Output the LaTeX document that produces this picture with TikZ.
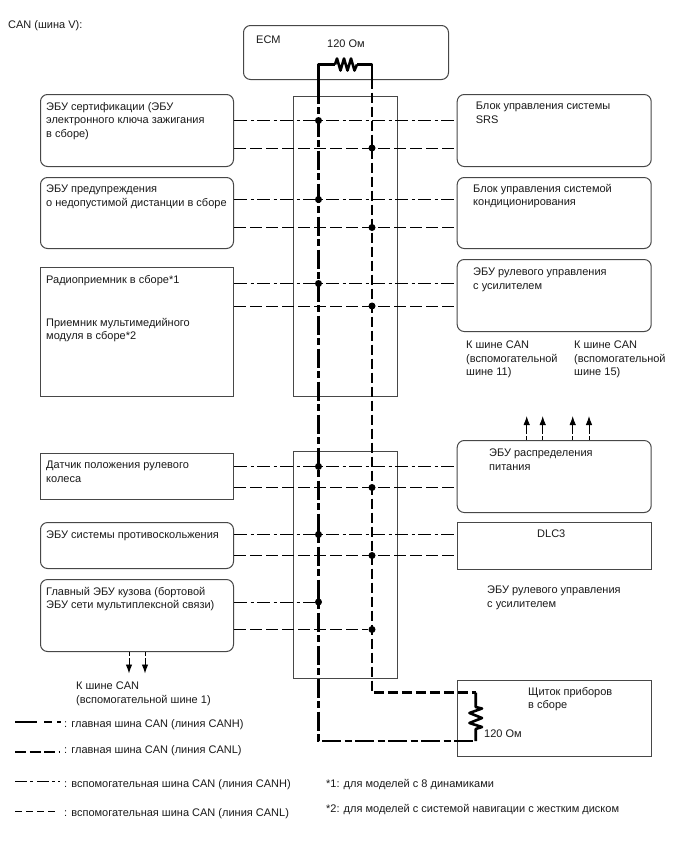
\documentclass[tikz,border=0pt]{standalone}
\usepackage{fontspec}
\setmainfont{Liberation Sans}
\usetikzlibrary{arrows.meta,calc}
\tikzset{
  every node/.style={font=\fontsize{11}{13.5}\selectfont},
  roundbox/.style={draw=black!72,line width=1pt,rounded corners=7pt,inner sep=0,anchor=north west},
  sqbox/.style={draw=black!72,line width=1pt,inner sep=0,anchor=north west},
  lbl/.style={anchor=north west,align=left,inner sep=0,text=black!90},
  dot/.style={circle,fill=black,inner sep=0,minimum size=7pt},
  subH/.style={line width=0.9pt,dash pattern=on 13pt off 3.5pt on 3pt off 3.5pt},
  subL/.style={line width=0.9pt,dash pattern=on 11.5pt off 4.5pt},
  mainH/.style={line width=2.6pt,dash pattern=on 19pt off 3.5pt on 7pt off 3.5pt},
  mainL/.style={line width=2.6pt,dash pattern=on 10pt off 4pt},
  wire/.style={line width=2.6pt,line join=round},
  stub/.style={line width=0.9pt,dash pattern=on 4pt off 2pt on 30pt,-{Latex[length=9pt,width=6.5pt]}}
}
\begin{document}
\begin{tikzpicture}[x=1pt,y=-1pt]
\useasboundingbox (0,0) rectangle (688,852);

% housings of the bus junction blocks
\node[sqbox,minimum width=104pt,minimum height=300pt] (jcA) at (293.3,96) {};
\node[sqbox,minimum width=104pt,minimum height=227pt] (jcB) at (293.3,451) {};

% control units
\node[roundbox,minimum width=205pt,minimum height=54pt] (ecm) at (243,25) {};
\node[roundbox,minimum width=193pt,minimum height=72pt] (l1) at (40,94) {};
\node[roundbox,minimum width=193pt,minimum height=71pt] (l2) at (40,177) {};
\node[sqbox,minimum width=193pt,minimum height=129pt] (l3) at (40,267) {};
\node[sqbox,minimum width=193pt,minimum height=46.5pt] (l4) at (40,452.7) {};
\node[roundbox,minimum width=193pt,minimum height=46pt] (l5) at (40,522) {};
\node[roundbox,minimum width=193pt,minimum height=72pt] (l6) at (40,579) {};
\node[roundbox,minimum width=194pt,minimum height=72pt] (r1) at (456.7,94) {};
\node[roundbox,minimum width=194pt,minimum height=71pt] (r2) at (456.7,177) {};
\node[roundbox,minimum width=194pt,minimum height=72pt] (r3) at (456.7,259) {};
\node[roundbox,minimum width=194pt,minimum height=72pt] (r4) at (456.7,440) {};
\node[sqbox,minimum width=194pt,minimum height=46.5pt] (r5) at (456.7,522) {};
\node[sqbox,minimum width=194pt,minimum height=75.7pt] (r6) at (456.7,680) {};

% bus routing points
\coordinate (hTop) at (318.5,64.5);
\coordinate (lTop) at (372,64.5);
\coordinate (resAw) at (335,64.5);
\coordinate (resAe) at (357,64.5);
\coordinate (hBot) at (318.5,741);
\coordinate (lBot) at (372,692.7);
\coordinate (tieH) at (475.7,741);
\coordinate (tieL) at (475.7,692.7);
\coordinate (resBn) at (475.7,707);
\coordinate (resBs) at (475.7,729);

% junction dots
\foreach \n/\y in {h1/120.5,h2/199.5,h3/283.5,h4/466.5,h5/534.5,h6/602}
  \node[dot] (\n) at (318.5,\y) {};
\foreach \n/\y in {d1/148,d2/227.5,d3/306,d4/487.5,d5/555.5,d6/629.5}
  \node[dot] (\n) at (372,\y) {};

% branch lines
\foreach \a/\b/\c in {l1/h1/r1,l2/h2/r2,l3/h3/r3,l4/h4/r4,l5/h5/r5}
  \draw[subH] (\a.east |- \b) -- (\c.west |- \b);
\foreach \a/\b/\c in {l1/d1/r1,l2/d2/r2,l3/d3/r3,l4/d4/r4,l5/d5/r5}
  \draw[subL] (\a.east |- \b) -- (\c.west |- \b);
\draw[subH] (l6.east |- h6) -- (h6);
\draw[subL] (l6.east |- d6) -- (d6);

% main bus
\draw[wire] (resAw) -- (hTop) -- ($(hTop)+(0,20)$);
\draw[wire] (resAe) -- (lTop) -- ($(lTop)+(0,14)$);
\draw[wire] (resAw) -- ++(2,-6) -- ++(3.5,12) -- ++(3.5,-12) -- ++(3.5,12) -- ++(3.5,-12) -- ++(3.5,12) -- (resAe);
\draw[mainH] ($(hTop)+(0,20)$) -- (hBot) -- (tieH);
\draw[mainL] ($(lTop)+(0,14)$) -- (lBot) -- (tieL);
\draw[wire] (tieL) -- (resBn) -- ++(6.3,1.5) -- ++(-12.6,4.5) -- ++(12.6,5) -- ++(-12.6,5) -- ++(12.6,4) -- (resBs) -- (tieH);

% stubs toward other sub-buses
\foreach \x/\n in {526.7/a,542.7/b,572.7/c,589/d} {
  \coordinate (upTip\n) at (\x,416);
  \draw[stub] (r4.north -| upTip\n) -- (upTip\n);
}
\foreach \x/\n in {129/a,145/b} {
  \coordinate (dnTip\n) at (\x,673.5);
  \draw[stub] (l6.south -| dnTip\n) -- (dnTip\n);
}

% labels
\node[lbl] (title) at (8,20) {CAN (шина V):};
\node[lbl] (tEcm) at (256,36) {ECM};
\node[lbl] (tResA) at (327,40) {120 Ом};
\node[lbl] (tL1) at (46,102) {ЭБУ сертификации (ЭБУ\\электронного ключа зажигания\\в сборе)};
\node[lbl] (tL2) at (46,185) {ЭБУ предупреждения\\о недопустимой дистанции в сборе};
\node[lbl] (tL3a) at (46,275) {Радиоприемник в сборе*1};
\node[lbl] (tL3b) at (46,318) {Приемник мультимедийного\\модуля в сборе*2};
\node[lbl] (tL4) at (46,461) {Датчик положения рулевого\\колеса};
\node[lbl] (tL5) at (46,531) {ЭБУ системы противоскольжения};
\node[lbl] (tL6) at (46,587) {Главный ЭБУ кузова (бортовой\\ЭБУ сети мультиплексной связи)};
\node[lbl] (tR1) at (475.7,102) {Блок управления системы\\SRS};
\node[lbl] (tR2) at (473,184) {Блок управления системой\\кондиционирования};
\node[lbl] (tR3) at (473,268) {ЭБУ рулевого управления\\с усилителем};
\node[lbl] (tBusA) at (466,341) {К шине CAN\\(вспомогательной\\шине 11)};
\node[lbl] (tBusB) at (574,341) {К шине CAN\\(вспомогательной\\шине 15)};
\node[lbl] (tR4) at (489,449) {ЭБУ распределения\\питания};
\node[lbl] (tR5) at (537,530) {DLC3};
\node[lbl] (tGhost) at (487,586) {ЭБУ рулевого управления\\с усилителем};
\node[lbl] (tR6) at (528,687) {Щиток приборов\\в сборе};
\node[lbl] (tResB) at (484,730) {120 Ом};
\node[lbl] (tBusC) at (76,682) {К шине CAN\\(вспомогательной шине 1)};

% legend
\coordinate (k1a) at (15,722); \coordinate (k1b) at (61,722);
\coordinate (k2a) at (15,752); \coordinate (k2b) at (60,752);
\coordinate (k3a) at (15,781); \coordinate (k3b) at (60,781);
\coordinate (k4a) at (15,811); \coordinate (k4b) at (55,811);
\draw[line width=2.6pt,dash pattern=on 22pt off 7pt on 8pt off 5pt on 4pt off 9pt] (k1a) -- (k1b);
\draw[line width=2.6pt,dash pattern=on 11pt off 3.5pt] (k2a) -- (k2b);
\draw[line width=0.9pt,dash pattern=on 12pt off 3pt on 3pt off 4pt on 12pt off 3pt on 3pt off 3pt on 3pt off 9pt] (k3a) -- (k3b);
\draw[line width=0.9pt,dash pattern=on 7pt off 4pt] (k4a) -- (k4b);
\node[lbl] (key1) at (64,719) {: главная шина CAN (линия CANH)};
\node[lbl] (key2) at (64,745) {: главная шина CAN (линия CANL)};
\node[lbl] (key3) at (64,779) {: вспомогательная шина CAN (линия CANH)};
\node[lbl] (key4) at (64,808) {: вспомогательная шина CAN (линия CANL)};
\node[lbl] (fn1) at (326,779) {*1: для моделей с 8 динамиками};
\node[lbl] (fn2) at (326,804) {*2: для моделей с системой навигации с жестким диском};
\end{tikzpicture}
\end{document}
